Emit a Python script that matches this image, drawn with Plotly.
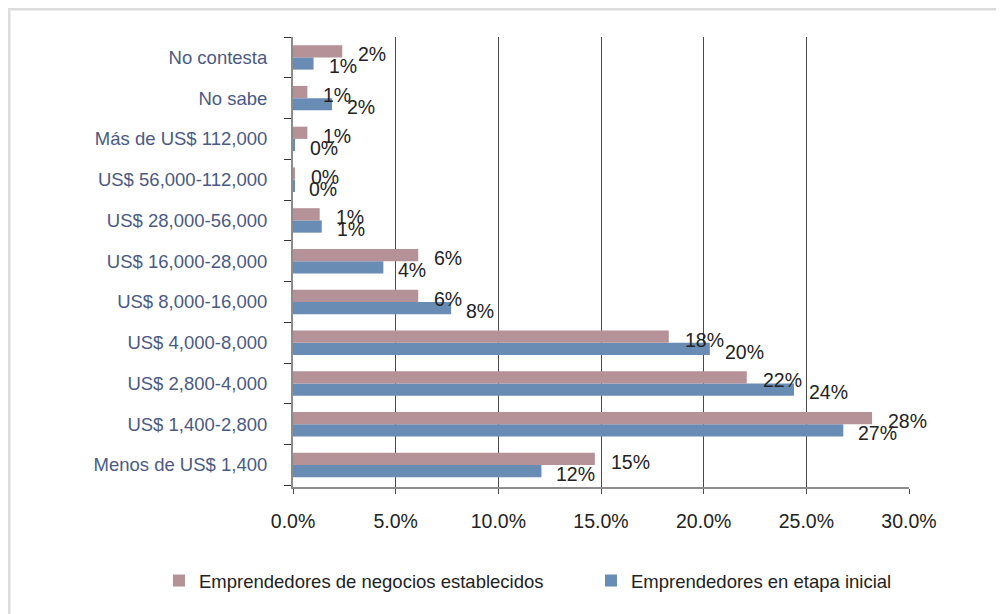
import plotly.graph_objects as go

categories = [
    "Menos de US$ 1,400",
    "US$ 1,400-2,800",
    "US$ 2,800-4,000",
    "US$ 4,000-8,000",
    "US$ 8,000-16,000",
    "US$ 16,000-28,000",
    "US$ 28,000-56,000",
    "US$ 56,000-112,000",
    "Más de US$ 112,000",
    "No sabe",
    "No contesta",
]
establecidos = [14.7, 28.2, 22.1, 18.3, 6.1, 6.1, 1.3, 0.1, 0.7, 0.7, 2.4]
inicial = [12.1, 26.8, 24.4, 20.3, 7.7, 4.4, 1.4, 0.05, 0.1, 1.9, 1.0]
x_ticks = [0, 5, 10, 15, 20, 25, 30]

name_est = "Emprendedores de negocios establecidos"
name_ini = "Emprendedores en etapa inicial"
col_est = "#b49298"
col_ini = "#698cb5"

fig = go.Figure()
fig.add_trace(go.Bar(y=categories, x=inicial, orientation="h", name=name_ini,
                     marker=dict(color=col_ini, line=dict(width=0)), legend="legend2"))
fig.add_trace(go.Bar(y=categories, x=establecidos, orientation="h", name=name_est,
                     marker=dict(color=col_est, line=dict(width=0)), legend="legend"))

annotations = []
for c, v in zip(categories, establecidos):
    annotations.append(dict(x=v, y=c, xref="x", yref="y", text=f"{round(v)}%",
                            showarrow=False, xanchor="left", yanchor="middle",
                            xshift=14, yshift=3,
                            font=dict(size=19.5, color="#222222", family="Liberation Sans")))
for c, v in zip(categories, inicial):
    annotations.append(dict(x=v, y=c, xref="x", yref="y", text=f"{round(v)}%",
                            showarrow=False, xanchor="left", yanchor="middle",
                            xshift=13, yshift=-9,
                            font=dict(size=19.5, color="#222222", family="Liberation Sans")))

legend_common = dict(orientation="h", yanchor="middle", xanchor="left",
                     font=dict(size=18.5, color="#222222"), itemwidth=30,
                     bgcolor="rgba(0,0,0,0)")

fig.update_layout(
    width=996, height=606,
    margin=dict(l=285, r=95, t=29, b=127, autoexpand=False),
    paper_bgcolor="white", plot_bgcolor="white",
    barmode="group", bargap=0.4, bargroupgap=0,
    font=dict(family="Liberation Sans", size=18.5, color="#222222"),
    annotations=annotations,
    showlegend=True,
    legend=dict(x=(159 - 293) / 616, y=(487 - 581) / 450, **legend_common),
    legend2=dict(x=(591 - 293) / 616, y=(487 - 581) / 450, **legend_common),
    shapes=[dict(type="rect", xref="paper", yref="paper",
                 x0=(9 - 293) / 616, x1=(1012 - 293) / 616,
                 y0=(487 - 625) / 450, y1=(487 - 9) / 450,
                 line=dict(color="#dcdcdc", width=3), fillcolor="rgba(0,0,0,0)", layer="below")],
)

fig.update_xaxes(
    range=[0, 30], tickvals=x_ticks, ticktext=[f"{t:.1f}%" for t in x_ticks],
    showgrid=True, gridcolor="#4a4a4a", gridwidth=1,
    showline=True, linecolor="#8c8c8c", linewidth=2,
    ticks="outside", ticklen=5, tickcolor="#4a4a4a",
    ticklabelstandoff=11, zeroline=False, automargin=False,
    tickfont=dict(size=19.5, color="#222222"),
)
fig.update_yaxes(
    type="category", categoryorder="array", categoryarray=categories,
    showline=True, linecolor="#8c8c8c", linewidth=2,
    ticks="outside", tickson="boundaries", ticklen=7, tickcolor="#333333",
    ticklabelstandoff=20, showgrid=False, automargin=False,
    tickfont=dict(size=18.5, color="#4b5a82"),
)

fig.write_html("out.html")
